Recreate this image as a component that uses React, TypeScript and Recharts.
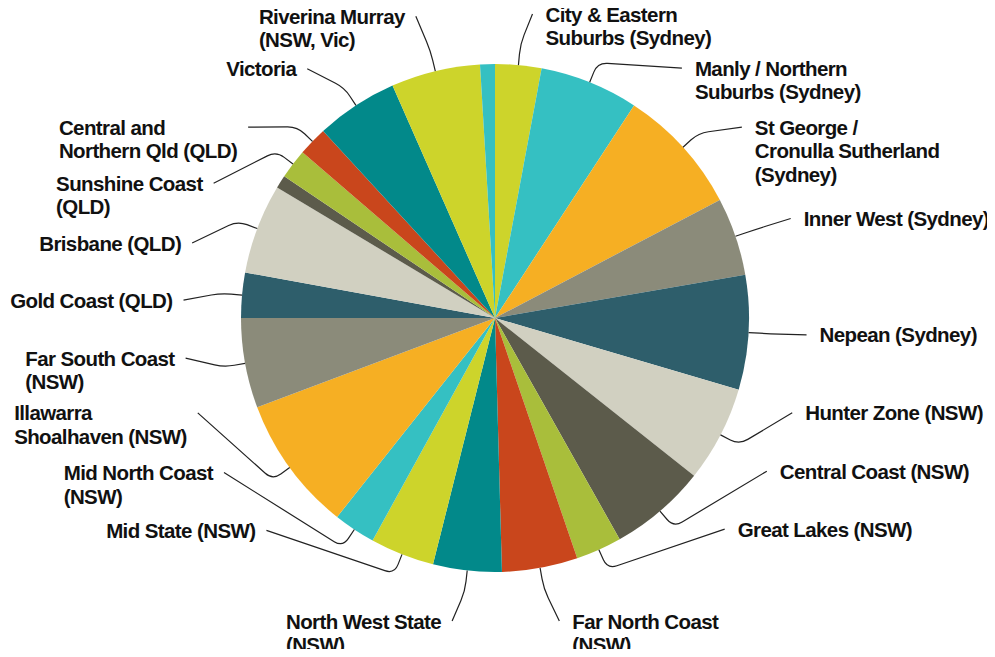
import React from 'react';
import { PieChart, Pie, Cell } from 'recharts';

// slices run clockwise from 12 o'clock
const regions = [
  'City & Eastern\nSuburbs (Sydney)',
  'Manly / Northern\nSuburbs (Sydney)',
  'St George /\nCronulla Sutherland\n(Sydney)',
  'Inner West (Sydney)',
  'Nepean (Sydney)',
  'Hunter Zone (NSW)',
  'Central Coast (NSW)',
  'Great Lakes (NSW)',
  'Far North Coast\n(NSW)',
  'North West State\n(NSW)',
  'Mid State (NSW)',
  'Mid North Coast\n(NSW)',
  'Illawarra\nShoalhaven (NSW)',
  'Far South Coast\n(NSW)',
  'Gold Coast (QLD)',
  'Brisbane (QLD)',
  '',
  'Sunshine Coast\n(QLD)',
  'Central and\nNorthern Qld (QLD)',
  'Victoria',
  'Riverina Murray\n(NSW, Vic)',
  '',
];

const shares = [
  2.94, 6.28, 8.08, 4.97, 7.28, 6.11, 6.17, 2.92, 4.81, 4.36, 4.08,
  2.67, 8.61, 5.72, 2.86, 5.72, 0.83, 1.89, 1.86, 5.22, 5.67, 0.94,
];

const palette = [
  '#cdd42b', '#35c0c2', '#f6af23', '#8b8b7a', '#2e5e6b',
  '#d1d0c1', '#5c5b4b', '#a9be3b', '#c9461c', '#02898a',
];

// where each label sits round the pie, degrees clockwise from 12 o'clock
const labelAngles: (number | null)[] = [
  6.9, 36.8, 52.3, 71.4, 93.1, 107.7, 119.4, 132.6, 168.1, 187.9, 227.1,
  240.3, 252.3, 262.6, 273.3, 283.9, null, 295.6, 307.7, 323.0, 345.3, null,
];

const data = regions.map((name, i) => ({ name, value: shares[i] }));

const RAD = Math.PI / 180;
const FONT_SIZE = 20.5;
const TRACKING = -0.6;
const LINE_H = 23.5;
const FONT_FAMILY = '"Liberation Sans", Arial, sans-serif';

let ctx: CanvasRenderingContext2D | null = null;
const textWidth = (s: string) => {
  if (!ctx) ctx = document.createElement('canvas').getContext('2d');
  if (!ctx) return s.length * 10;
  ctx.font = `bold ${FONT_SIZE}px ${FONT_FAMILY}`;
  return ctx.measureText(s).width + s.length * TRACKING;
};

const polar = (cx: number, cy: number, r: number, cw: number) => ({
  x: cx + r * Math.sin(cw * RAD),
  y: cy - r * Math.cos(cw * RAD),
});

const toward = (a: { x: number; y: number }, b: { x: number; y: number }, len: number) => {
  const d = Math.hypot(b.x - a.x, b.y - a.y) || 1;
  return { x: a.x + ((b.x - a.x) * len) / d, y: a.y + ((b.y - a.y) * len) / d };
};

const renderLabel = (props: any) => {
  const { cx, cy, midAngle, outerRadius, index } = props;
  const text = regions[index];
  const la = labelAngles[index];
  if (!text || la == null) return <g key={`lbl-${index}`} />;

  const mid = 90 - midAngle;
  const p0 = polar(cx, cy, outerRadius, mid);
  const pc = polar(cx, cy, outerRadius + 21, mid);
  const p2 = polar(cx, cy, outerRadius + 58, la);
  // keep labels inside the picture at top and bottom
  p2.y = Math.max(14, Math.min(621, p2.y));
  const rr = Math.min(
    10,
    Math.hypot(pc.x - p0.x, pc.y - p0.y) / 2,
    Math.hypot(p2.x - pc.x, p2.y - pc.y) / 2
  );
  const a = toward(pc, p0, rr);
  const b = toward(pc, p2, rr);
  const path = `M${p0.x},${p0.y}L${a.x},${a.y}Q${pc.x},${pc.y} ${b.x},${b.y}L${p2.x},${p2.y}`;

  const lines = text.split('\n');
  const right = la < 180;
  const block = Math.max(...lines.map(textWidth));
  const tx = right ? p2.x + 13 : p2.x - 11 - block;

  return (
    <g key={`lbl-${index}`}>
      <path d={path} fill="none" stroke="#222" strokeWidth={1.2} />
      <text
        x={tx}
        y={p2.y + 7.5}
        fill="#111"
        fontSize={FONT_SIZE}
        fontWeight="bold"
        fontFamily={FONT_FAMILY}
        letterSpacing={TRACKING}
        textAnchor="start"
      >
        {lines.map((ln, k) => (
          <tspan key={k} x={tx} dy={k === 0 ? 0 : LINE_H}>
            {ln}
          </tspan>
        ))}
      </text>
    </g>
  );
};

export default function App() {
  return (
    <div style={{ margin: -8, background: '#fff' }}>
      <PieChart width={995} height={657} margin={{ top: 0, right: 0, bottom: 0, left: 0 }}>
        <Pie
          data={data}
          dataKey="value"
          nameKey="name"
          cx={495}
          cy={318}
          outerRadius={254}
          startAngle={90}
          endAngle={-270}
          stroke="none"
          label={renderLabel}
          labelLine={false}
          isAnimationActive={false}
        >
          {data.map((entry, i) => (
            <Cell key={`cell-${i}`} fill={palette[i % palette.length]} />
          ))}
        </Pie>
      </PieChart>
    </div>
  );
}
